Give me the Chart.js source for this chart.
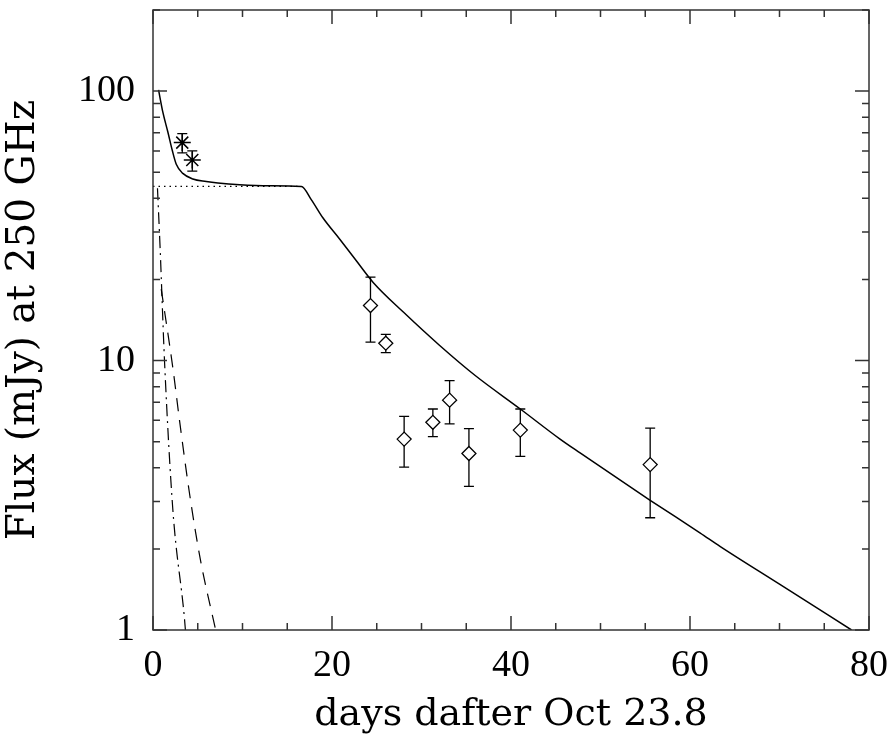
<!DOCTYPE html>
<html>
<head>
<meta charset="utf-8">
<script src="https://cdn.jsdelivr.net/npm/chart.js@4/dist/chart.umd.min.js"></script>
<style>
  html, body { margin: 0; padding: 0; background: #fff; }
  #wrap { width: 894px; height: 740px; }
</style>
</head>
<body>
<div id="wrap"><canvas id="myChart" width="894" height="740"></canvas></div>
<script>
// model curve (solid)
const modelDays = [0.62, 1.10, 1.66, 2.15, 2.60, 3.33, 4.45, 5.95, 7.25, 9.68, 13.0, 16.58,
    17.70, 19.0, 20.87, 22.74, 24.6, 28, 32, 36, 41.04, 45.48, 47.72, 55.55, 61.15, 63.39, 70, 78.05];
const modelFlux = [101, 83.5, 70.5, 60.3, 53.5, 49.5, 47.2, 46.2, 45.6, 44.9, 44.5, 44.3,
    39.5, 33.8, 28.2, 23.4, 19.5, 15.1, 11.4, 8.8, 6.61, 5.11, 4.54, 3.03, 2.29, 2.04, 1.48, 1.0];

// components
const plateauDays = [0, 16.58];
const plateauFlux = [44.3, 44.3];
const dashDays = [0.92, 2.22, 2.97, 4.08, 5.3, 7.0];
const dashFlux = [18.4, 9.38, 5.97, 3.21, 1.82, 1.0];
const dashDotDays = [0.5, 0.80, 1.29, 2.22, 3.52, 3.62];
const dashDotFlux = [43.6, 25.9, 9.9, 2.79, 1.1, 1.0];

// measurements
const starDays = [3.27, 4.39];
const starFlux = [64.4, 55.5];
const starLo = [59.0, 50.5];
const starHi = [69.5, 60.0];

const diamondDays = [24.30, 26.01, 28.06, 31.27, 33.14, 35.30, 41.04, 55.55];
const diamondFlux = [16.0, 11.6, 5.11, 5.90, 7.13, 4.52, 5.52, 4.11];
const diamondLo = [11.7, 10.7, 4.02, 5.22, 5.82, 3.41, 4.41, 2.61];
const diamondHi = [20.4, 12.5, 6.21, 6.61, 8.42, 5.59, 6.61, 5.61];

// axis ticks
const xMajor = [0, 20, 40, 60, 80];
const yMajor = [1, 10, 100];

function pts(xs, ys) {
    return xs.map((x, i) => ({x: x, y: ys[i]}));
}

const TICKFONT = "'Liberation Serif', serif";
const TITLEFONT = "'DejaVu Serif', serif";

// error bars, drawn under the markers
const errorBars = {
    id: 'errorBars',
    beforeDatasetsDraw(chart) {
        const ctx = chart.ctx;
        const xs = chart.scales.x, ys = chart.scales.y;
        const sets = [[starDays, starLo, starHi], [diamondDays, diamondLo, diamondHi]];
        ctx.save();
        ctx.strokeStyle = '#000';
        ctx.lineWidth = 1.3;
        sets.forEach(s => {
            s[0].forEach((d, i) => {
                const px = xs.getPixelForValue(d);
                const top = ys.getPixelForValue(s[2][i]);
                const bot = ys.getPixelForValue(s[1][i]);
                ctx.beginPath();
                ctx.moveTo(px, top); ctx.lineTo(px, bot);
                ctx.moveTo(px - 5, top); ctx.lineTo(px + 5, top);
                ctx.moveTo(px - 5, bot); ctx.lineTo(px + 5, bot);
                ctx.stroke();
            });
        });
        ctx.restore();
    }
};

// box frame with inward ticks on all four sides
const frame = {
    id: 'frame',
    afterDraw(chart) {
        const ctx = chart.ctx;
        const a = chart.chartArea;
        const xs = chart.scales.x, ys = chart.scales.y;
        ctx.save();
        ctx.strokeStyle = '#333';
        ctx.lineWidth = 1.5;
        ctx.strokeRect(a.left, a.top, a.right - a.left, a.bottom - a.top);
        ctx.beginPath();
        for (let d = 0; d <= 80; d += 5) {
            const px = xs.getPixelForValue(d);
            const len = xMajor.includes(d) ? 14 : 7;
            ctx.moveTo(px, a.bottom); ctx.lineTo(px, a.bottom - len);
            ctx.moveTo(px, a.top); ctx.lineTo(px, a.top + len);
        }
        for (let dec = 1; dec <= 100; dec *= 10) {
            for (let m = 1; m <= 9; m++) {
                const v = m * dec;
                if (v > 200) continue;
                const py = ys.getPixelForValue(v);
                const len = m === 1 ? 14 : 7;
                ctx.moveTo(a.left, py); ctx.lineTo(a.left + len, py);
                ctx.moveTo(a.right, py); ctx.lineTo(a.right - len, py);
            }
        }
        ctx.stroke();
        ctx.restore();
    }
};

const ctx = document.getElementById('myChart');

let ch = new Chart(ctx, {
    type: 'scatter',
    data: {
        datasets: [
            {
                type: 'line',
                data: pts(modelDays, modelFlux),
                borderColor: '#000',
                borderWidth: 1.5,
                pointRadius: 0,
                cubicInterpolationMode: 'monotone',
            },
            {
                type: 'line',
                data: pts(plateauDays, plateauFlux),
                borderColor: '#000',
                borderWidth: 1.2,
                borderDash: [1.5, 4],
                pointRadius: 0,
            },
            {
                type: 'line',
                data: pts(dashDays, dashFlux),
                borderColor: '#000',
                borderWidth: 1.2,
                borderDash: [13, 9],
                pointRadius: 0,
                cubicInterpolationMode: 'monotone',
            },
            {
                type: 'line',
                data: pts(dashDotDays, dashDotFlux),
                borderColor: '#000',
                borderWidth: 1.2,
                borderDash: [12, 5, 2, 5],
                pointRadius: 0,
                cubicInterpolationMode: 'monotone',
            },
            {
                data: pts(starDays, starFlux),
                pointStyle: 'star',
                pointRadius: 8.5,
                borderColor: '#000',
                borderWidth: 1.5,
                showLine: false,
            },
            {
                data: pts(diamondDays, diamondFlux),
                pointStyle: 'rectRot',
                pointRadius: 7,
                borderColor: '#000',
                backgroundColor: '#fff',
                borderWidth: 1.3,
                showLine: false,
            },
        ]
    },
    options: {
        responsive: false,
        animation: false,
        layout: {
            padding: {top: 5, right: 25, left: 0, bottom: 0}
        },
        plugins: {
            legend: {display: false},
            tooltip: {enabled: false},
        },
        scales: {
            x: {
                type: 'linear',
                min: 0,
                max: 80,
                afterBuildTicks: (scale) => {
                    scale.ticks = xMajor.map(v => ({value: v}));
                },
                afterFit: (scale) => {
                    scale.height = 110;
                    scale.paddingLeft = 0;
                    scale.paddingRight = 0;
                },
                grid: {display: false, drawTicks: false},
                border: {display: false},
                ticks: {
                    color: '#000',
                    padding: 13,
                    maxRotation: 0,
                    font: {family: TICKFONT, size: 38},
                },
                title: {
                    display: true,
                    text: 'days dafter Oct 23.8',
                    color: '#000',
                    padding: {top: 0, bottom: 2},
                    font: {family: TITLEFONT, size: 38},
                },
            },
            y: {
                type: 'logarithmic',
                min: 1,
                max: 200,
                afterBuildTicks: (scale) => {
                    scale.ticks = yMajor.map(v => ({value: v}));
                },
                afterFit: (scale) => {
                    scale.width = 153;
                    scale.paddingTop = 0;
                    scale.paddingBottom = 0;
                },
                grid: {display: false, drawTicks: false},
                border: {display: false},
                ticks: {
                    color: '#000',
                    padding: 18,
                    callback: (v) => String(v),
                    font: {family: TICKFONT, size: 38},
                },
                title: {
                    display: true,
                    text: 'Flux (mJy) at 250 GHz',
                    color: '#000',
                    padding: {top: 0, bottom: 15},
                    font: {family: TITLEFONT, size: 39},
                },
            }
        }
    },
    plugins: [errorBars, frame]
});
</script>
</body>
</html>
